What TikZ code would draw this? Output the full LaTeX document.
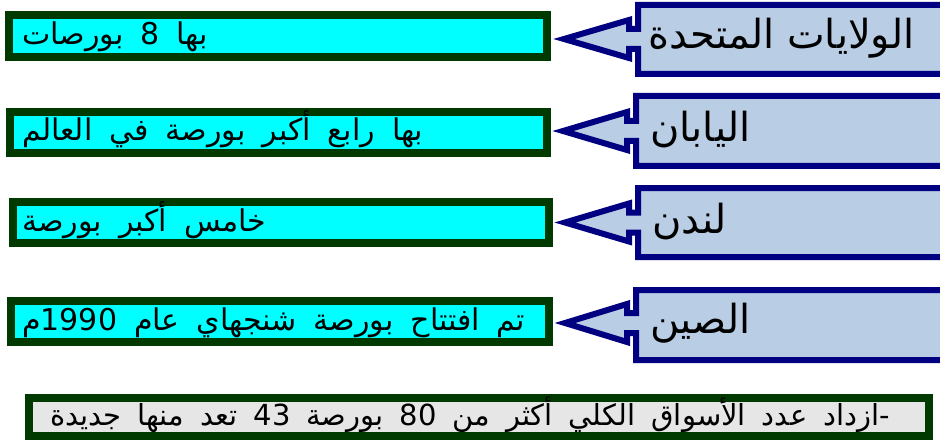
\documentclass[tikz,border=0pt]{standalone}
\usepackage{fontspec}
\newfontfamily\arabicfont[Script=Arabic]{DejaVu Sans}
\TeXXeTstate=1
\definecolor{boxcyan}{HTML}{00FFFF}
\definecolor{boxgreen}{HTML}{003A00}
\definecolor{callfill}{HTML}{B9CDE5}
\definecolor{callnavy}{HTML}{000080}
\definecolor{notegray}{HTML}{E6E6E6}
\newcommand\cyantextfont{\arabicfont\fontsize{30}{34}\selectfont\spaceskip 17pt\relax}
\newcommand\notetextfont{\arabicfont\fontsize{29}{33}\selectfont\spaceskip 16pt\relax}
\tikzset{
  cbox/.style={draw=boxgreen, fill=boxcyan, line width=8pt, inner sep=0pt},
  nbox/.style={draw=boxgreen, fill=notegray, line width=8pt, inner sep=0pt},
  callshape/.style={draw=callnavy, fill=callfill, line width=6pt, line join=miter},
  ctext/.style={anchor=base west, inner sep=0pt, font=\cyantextfont},
  ltext/.style={anchor=west, inner sep=0pt, font=\arabicfont\fontsize{40}{46}\selectfont},
  btext/.style={anchor=base east, inner sep=0pt, font=\notetextfont},
}
\begin{document}
\begin{tikzpicture}[x=1pt,y=-1pt]
\useasboundingbox (0,0) rectangle (940,441);
\fill[white] (0,0) rectangle (940,441);
% cyan boxes
\node[cbox, minimum width=538pt, minimum height=42pt] (c1) at (278,36) {};
\node[cbox, minimum width=537pt, minimum height=41pt] (c2) at (278.5,132.5) {};
\node[cbox, minimum width=536pt, minimum height=41pt] (c3) at (281,222.5) {};
\node[cbox, minimum width=538pt, minimum height=41pt] (c4) at (280,321.5) {};
% callouts
\begin{scope}
\clip (0,0) rectangle (940,441);
\coordinate (t1) at (564,39);
\coordinate (t2) at (563,131);
\coordinate (t3) at (565,222.5);
\coordinate (t4) at (565,323);
\draw[callshape] (t1) -- (629,20) -- (629,29) -- (638,29) -- (638,5) -- (950,5) -- (950,74) -- (638,74) -- (638,49) -- (629,49) -- (629,58) -- cycle;
\draw[callshape] (t2) -- (627,112) -- (627,121) -- (636,121) -- (636,96) -- (950,96) -- (950,166) -- (636,166) -- (636,141) -- (627,141) -- (627,150) -- cycle;
\draw[callshape] (t3) -- (629,203.5) -- (629,212.5) -- (638,212.5) -- (638,188) -- (950,188) -- (950,257) -- (638,257) -- (638,232.5) -- (629,232.5) -- (629,241.5) -- cycle;
\draw[callshape] (t4) -- (627,304) -- (627,313) -- (636,313) -- (636,290) -- (950,290) -- (950,360) -- (636,360) -- (636,333) -- (627,333) -- (627,342) -- cycle;
\end{scope}
% texts in cyan boxes
\node[ctext] (a1) at (22,44.5) {\beginR بها 8 بورصات\endR};
\node[ctext] (a2) at (22,141) {\beginR بها رابع أكبر بورصة في العالم\endR};
\node[ctext] (a3) at (22,231) {\beginR خامس أكبر بورصة\endR};
\node[ctext] (a4) at (22,330) {\beginR تم افتتاح بورصة شنجهاي عام \beginL 1990\endL م\endR};
% callout labels
\node[ltext] (u1) at (648,38) {\beginR الولايات المتحدة\endR};
\node[ltext] (u2) at (650,130) {\beginR اليابان\endR};
\node[ltext] (u3) at (652,222) {\beginR لندن\endR};
\node[ltext] (u4) at (650,323) {\beginR الصين\endR};
% bottom note
\node[nbox, minimum width=900pt, minimum height=38pt] (n) at (479,417) {};
\node[btext] (nt) at (890,425) {\beginR -ازداد عدد الأسواق الكلي أكثر من 80 بورصة 43 تعد منها جديدة\endR};
\end{tikzpicture}
\end{document}
